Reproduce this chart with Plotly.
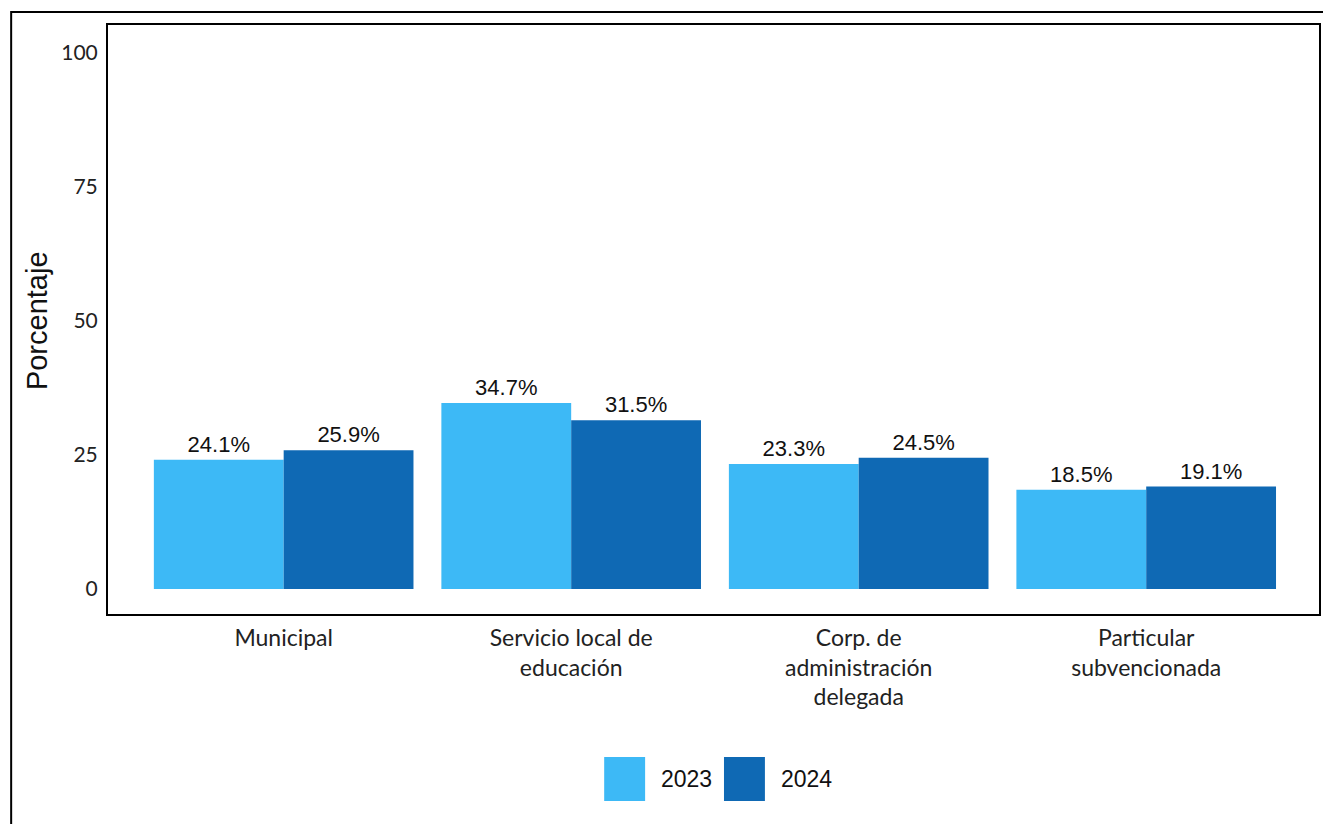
import plotly.graph_objects as go

categories = ["Municipal", "Servicio local de<br>educación", "Corp. de<br>administración<br>delegada", "Particular<br>subvencionada"]
years = ["2023", "2024"]
values_2023 = [24.1, 34.7, 23.3, 18.5]
values_2024 = [25.9, 31.5, 24.5, 19.1]
colors = ["#3DB9F6", "#0F69B4"]
y_ticks = [0, 25, 50, 75, 100]

W, H = 1323, 824
L, R, T, B = 108, 2, 25, 210
pw, ph = W - L - R, H - T - B

def px_x(p):
    return (p - L) / pw

def px_y(p):
    return (H - B - p) / ph

fig = go.Figure()
for yr, vals, col in zip(years, [values_2023, values_2024], colors):
    fig.add_trace(go.Bar(
        x=categories, y=vals, name=yr, marker=dict(color=col, line=dict(width=0)),
        texttemplate="%{y:.1f}%", textposition="outside", cliponaxis=False,
        textfont=dict(family="Liberation Sans, Arial", size=22, color="#111"),
        showlegend=False,
    ))

shapes = []
annotations = []
# manual legend
leg_x = [605, 725]
for i, (yr, col) in enumerate(zip(years, colors)):
    x0 = leg_x[i]
    shapes.append(dict(type="rect", xref="paper", yref="paper",
                       x0=px_x(x0), x1=px_x(x0 + 41), y0=px_y(801), y1=px_y(757),
                       fillcolor=col, line=dict(width=0)))
    annotations.append(dict(text=yr, xref="paper", yref="paper", x=px_x(x0 + 55), y=px_y(779),
                            xanchor="left", yanchor="middle", showarrow=False,
                            font=dict(family="Liberation Sans, Arial", size=23, color="#111")))
# outer frame
shapes.append(dict(type="path", xref="paper", yref="paper",
                   path=f"M {px_x(11)},{px_y(830)} L {px_x(11)},{px_y(12)} L {px_x(1330)},{px_y(12)}",
                   line=dict(color="black", width=2)))
annotations.append(dict(text="Porcentaje", xref="paper", yref="paper", x=px_x(37), y=px_y(321),
                        xanchor="center", yanchor="middle", textangle=-90, showarrow=False,
                        font=dict(family="Liberation Sans, Arial", size=29, color="#111")))

fig.update_layout(
    width=W, height=H,
    margin=dict(l=L, r=R, t=T, b=B),
    paper_bgcolor="white", plot_bgcolor="white",
    barmode="group", bargap=0.097, bargroupgap=0,
    shapes=shapes, annotations=annotations,
    xaxis=dict(range=[-0.611, 3.601], showline=True, linecolor="black", linewidth=2, mirror=True,
               showgrid=False, ticks="", ticklabelstandoff=2,
               tickfont=dict(family="Lato", size=23, color="#222")),
    yaxis=dict(range=[-4.66, 105.2], tickvals=y_ticks, showline=True, linecolor="black", linewidth=2,
               mirror=True, showgrid=False, zeroline=False, ticks="", ticklabelstandoff=4,
               tickfont=dict(family="Lato", size=21, color="#222")),
)

fig.write_html("out.html", config={"displayModeBar": False},
               post_script="document.body.style.margin='0';document.body.style.overflow='hidden';")
